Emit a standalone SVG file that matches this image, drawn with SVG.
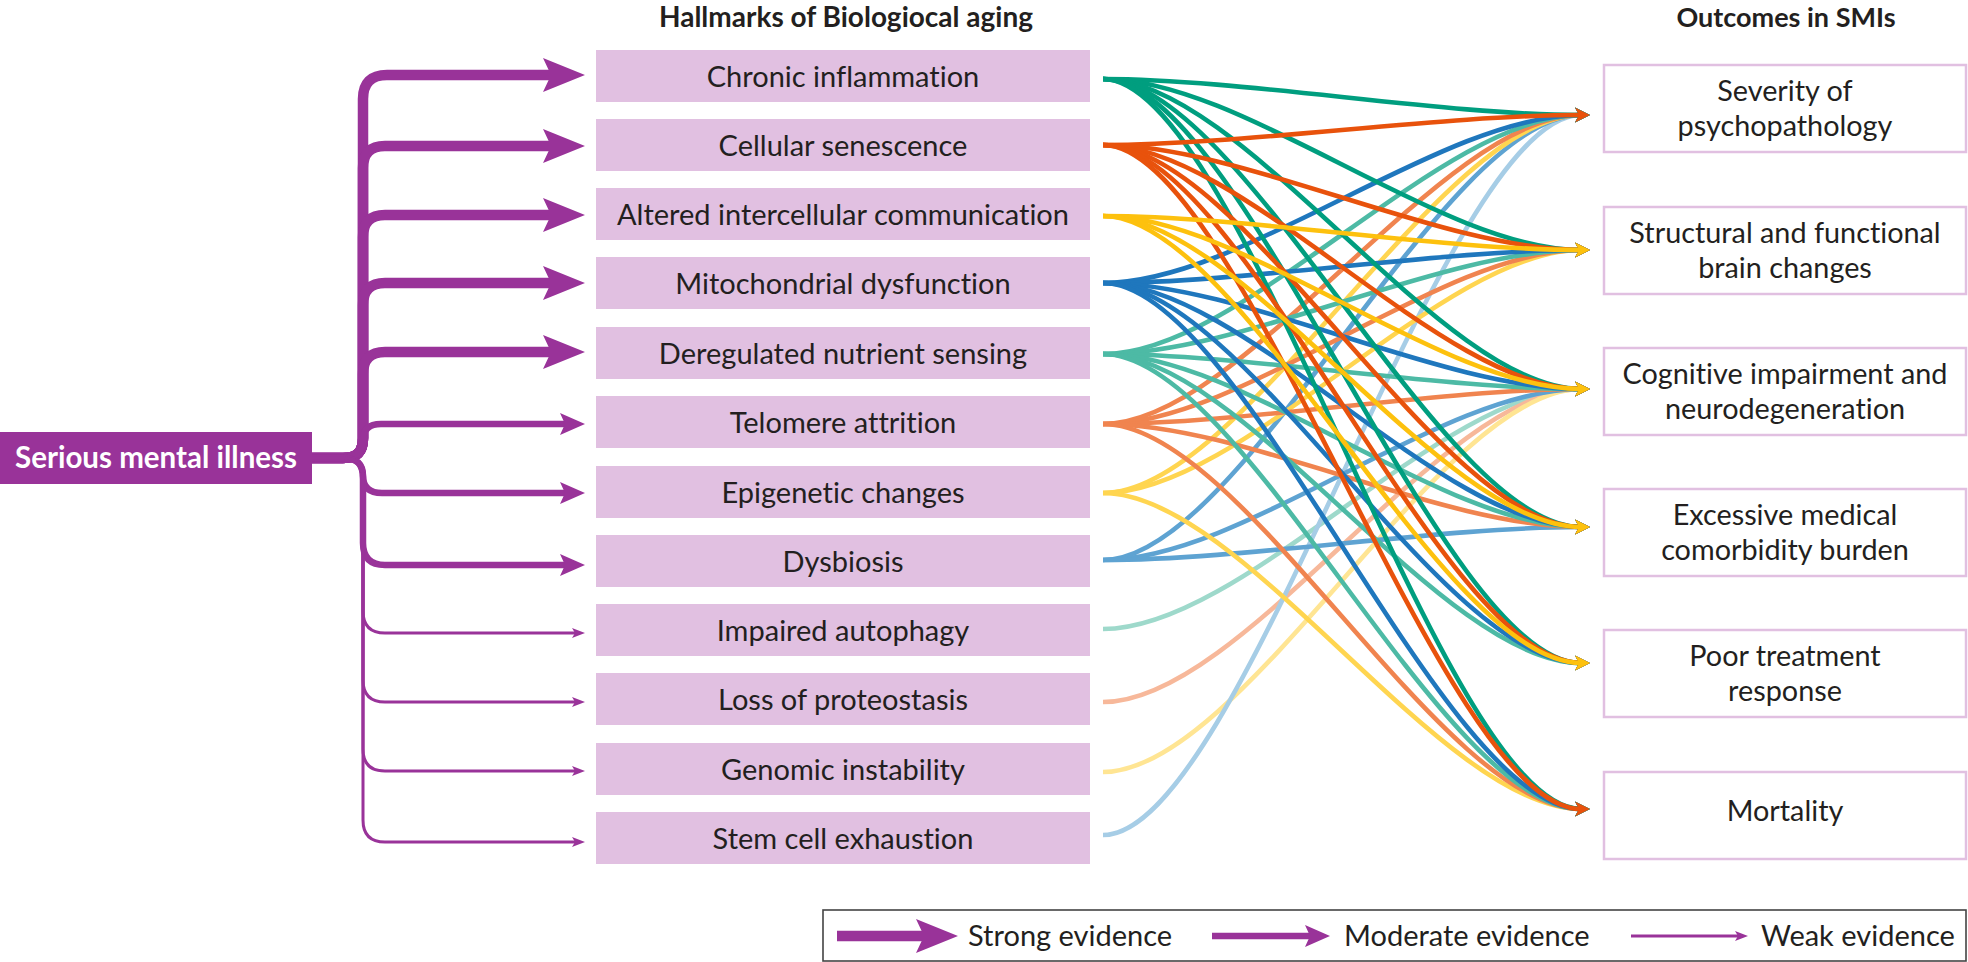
<svg xmlns="http://www.w3.org/2000/svg" width="1968" height="962" viewBox="0 0 1968 962">
<style>
text{font-family:Lato,"Open Sans","Liberation Sans",sans-serif;fill:#231f20;font-variant-ligatures:none}
.hm rect{fill:#e1c0e1}
.hm text{font-size:29px;text-anchor:middle}
.oc rect{fill:#fff;stroke:#e1c0e1;stroke-width:2.5}
.oc text{font-size:28.8px;text-anchor:middle}
.head{font-weight:700;text-anchor:middle}
.lg{font-size:29px}
.br{fill:none;stroke:#993399;stroke-linejoin:round}
.s{stroke-width:10.5;marker-end:url(#mS)}
.m{stroke-width:6.5;marker-end:url(#mM)}
.w{stroke-width:3;marker-end:url(#mW)}
.c{fill:none;stroke-width:4.6}
</style>
<defs>
<marker id="mS" markerUnits="userSpaceOnUse" markerWidth="42" markerHeight="34" refX="17" refY="17" orient="auto" overflow="visible"><polygon points="0,0 42,17 0,34 8,17" fill="#993399"/></marker>
<marker id="mM" markerUnits="userSpaceOnUse" markerWidth="25" markerHeight="22" refX="13" refY="11" orient="auto" overflow="visible"><polygon points="0,0 25,11 0,22 5,11" fill="#993399"/></marker>
<marker id="mW" markerUnits="userSpaceOnUse" markerWidth="13" markerHeight="10" refX="7" refY="5" orient="auto" overflow="visible"><polygon points="0,0 13,5 0,10 3,5" fill="#993399"/></marker>
<marker id="a1" markerUnits="userSpaceOnUse" markerWidth="15" markerHeight="15" refX="6" refY="7.5" orient="auto" overflow="visible"><polygon points="0,0 15,7.5 0,15 4,7.5" fill="#009e7f"/></marker>
<marker id="a2" markerUnits="userSpaceOnUse" markerWidth="15" markerHeight="15" refX="6" refY="7.5" orient="auto" overflow="visible"><polygon points="0,0 15,7.5 0,15 4,7.5" fill="#e8520c"/></marker>
<marker id="a3" markerUnits="userSpaceOnUse" markerWidth="15" markerHeight="15" refX="6" refY="7.5" orient="auto" overflow="visible"><polygon points="0,0 15,7.5 0,15 4,7.5" fill="#fdc10e"/></marker>
<marker id="a4" markerUnits="userSpaceOnUse" markerWidth="15" markerHeight="15" refX="6" refY="7.5" orient="auto" overflow="visible"><polygon points="0,0 15,7.5 0,15 4,7.5" fill="#1f77bd"/></marker>
<marker id="a5" markerUnits="userSpaceOnUse" markerWidth="15" markerHeight="15" refX="6" refY="7.5" orient="auto" overflow="visible"><polygon points="0,0 15,7.5 0,15 4,7.5" fill="#4dbaa5"/></marker>
<marker id="a6" markerUnits="userSpaceOnUse" markerWidth="15" markerHeight="15" refX="6" refY="7.5" orient="auto" overflow="visible"><polygon points="0,0 15,7.5 0,15 4,7.5" fill="#f0844f"/></marker>
<marker id="a7" markerUnits="userSpaceOnUse" markerWidth="15" markerHeight="15" refX="6" refY="7.5" orient="auto" overflow="visible"><polygon points="0,0 15,7.5 0,15 4,7.5" fill="#ffd550"/></marker>
<marker id="a8" markerUnits="userSpaceOnUse" markerWidth="15" markerHeight="15" refX="6" refY="7.5" orient="auto" overflow="visible"><polygon points="0,0 15,7.5 0,15 4,7.5" fill="#5ea3d2"/></marker>
<marker id="a9" markerUnits="userSpaceOnUse" markerWidth="15" markerHeight="15" refX="6" refY="7.5" orient="auto" overflow="visible"><polygon points="0,0 15,7.5 0,15 4,7.5" fill="#9ed9cb"/></marker>
<marker id="a10" markerUnits="userSpaceOnUse" markerWidth="15" markerHeight="15" refX="6" refY="7.5" orient="auto" overflow="visible"><polygon points="0,0 15,7.5 0,15 4,7.5" fill="#f7b89a"/></marker>
<marker id="a11" markerUnits="userSpaceOnUse" markerWidth="15" markerHeight="15" refX="6" refY="7.5" orient="auto" overflow="visible"><polygon points="0,0 15,7.5 0,15 4,7.5" fill="#ffe593"/></marker>
<marker id="a12" markerUnits="userSpaceOnUse" markerWidth="15" markerHeight="15" refX="6" refY="7.5" orient="auto" overflow="visible"><polygon points="0,0 15,7.5 0,15 4,7.5" fill="#a6cde6"/></marker>
</defs>

<text class="head" x="846" y="27" font-size="28">Hallmarks of Biologiocal aging</text>
<text class="head" x="1786" y="27" font-size="27">Outcomes in SMIs</text>

<g id="connectors">
<g id="smi-branches">
<path class="br s" d="M312,458 H343 C357,458 363,452 363,438 V99 Q363,75 387,75 H560"/>
<path class="br s" d="M312,458 H343 C357,458 363,452 363,438 V168 Q363,146 385,146 H560"/>
<path class="br s" d="M312,458 H343 C357,458 363,452 363,438 V237 Q363,215 385,215 H560"/>
<path class="br s" d="M312,458 H343 C357,458 363,452 363,438 V305 Q363,283 385,283 H560"/>
<path class="br s" d="M312,458 H343 C357,458 363,452 363,438 V374 Q363,352 385,352 H560"/>
<path class="br m" d="M312,458 H343 C357,458 363,452 363,440 Q363,424 381,424 H573"/>
<path class="br m" d="M312,458 H343 C357,458 363,464 363,476 Q363,493 382,493 H573"/>
<path class="br m" d="M312,458 H343 C357,458 363,464 363,478 V543 Q363,565 385,565 H573"/>
<path class="br w" d="M312,458 H343 C357,458 363,464 363,478 V611 Q363,633 385,633 H579"/>
<path class="br w" d="M312,458 H343 C357,458 363,464 363,478 V680 Q363,702 385,702 H579"/>
<path class="br w" d="M312,458 H343 C357,458 363,464 363,478 V749 Q363,771 385,771 H579"/>
<path class="br w" d="M312,458 H343 C357,458 363,464 363,478 V820 Q363,842 385,842 H579"/>
</g>
<g id="hallmark-links">
<path class="c" stroke="#9ed9cb" marker-end="url(#a9)" d="M1103,629 C1243,629 1441,389 1581,389"/>
<path class="c" stroke="#f7b89a" marker-end="url(#a10)" d="M1103,702 C1243,702 1441,389 1581,389"/>
<path class="c" stroke="#ffe593" marker-end="url(#a11)" d="M1103,772 C1243,772 1441,389 1581,389"/>
<path class="c" stroke="#a6cde6" marker-end="url(#a12)" d="M1103,835 C1243,835 1441,115 1581,115"/>
<path class="c" stroke="#5ea3d2" marker-end="url(#a8)" d="M1103,560 C1243,560 1441,115 1581,115"/>
<path class="c" stroke="#5ea3d2" marker-end="url(#a8)" d="M1103,560 C1243,560 1441,389 1581,389"/>
<path class="c" stroke="#5ea3d2" marker-end="url(#a8)" d="M1103,560 C1243,560 1441,527 1581,527"/>
<path class="c" stroke="#ffd550" marker-end="url(#a7)" d="M1103,493 C1243,493 1441,115 1581,115"/>
<path class="c" stroke="#ffd550" marker-end="url(#a7)" d="M1103,493 C1243,493 1441,250 1581,250"/>
<path class="c" stroke="#ffd550" marker-end="url(#a7)" d="M1103,493 C1243,493 1441,809 1581,809"/>
<path class="c" stroke="#f0844f" marker-end="url(#a6)" d="M1103,424 C1243,424 1441,115 1581,115"/>
<path class="c" stroke="#f0844f" marker-end="url(#a6)" d="M1103,424 C1243,424 1441,250 1581,250"/>
<path class="c" stroke="#f0844f" marker-end="url(#a6)" d="M1103,424 C1243,424 1441,389 1581,389"/>
<path class="c" stroke="#f0844f" marker-end="url(#a6)" d="M1103,424 C1243,424 1441,527 1581,527"/>
<path class="c" stroke="#f0844f" marker-end="url(#a6)" d="M1103,424 C1243,424 1441,809 1581,809"/>
<path class="c" stroke="#4dbaa5" marker-end="url(#a5)" d="M1103,354 C1243,354 1441,115 1581,115"/>
<path class="c" stroke="#4dbaa5" marker-end="url(#a5)" d="M1103,354 C1243,354 1441,250 1581,250"/>
<path class="c" stroke="#4dbaa5" marker-end="url(#a5)" d="M1103,354 C1243,354 1441,389 1581,389"/>
<path class="c" stroke="#4dbaa5" marker-end="url(#a5)" d="M1103,354 C1243,354 1441,527 1581,527"/>
<path class="c" stroke="#4dbaa5" marker-end="url(#a5)" d="M1103,354 C1243,354 1441,663 1581,663"/>
<path class="c" stroke="#4dbaa5" marker-end="url(#a5)" d="M1103,354 C1243,354 1441,809 1581,809"/>
<path class="c" stroke="#1f77bd" marker-end="url(#a4)" d="M1103,283 C1243,283 1441,115 1581,115"/>
<path class="c" stroke="#1f77bd" marker-end="url(#a4)" d="M1103,283 C1243,283 1441,250 1581,250"/>
<path class="c" stroke="#1f77bd" marker-end="url(#a4)" d="M1103,283 C1243,283 1441,389 1581,389"/>
<path class="c" stroke="#1f77bd" marker-end="url(#a4)" d="M1103,283 C1243,283 1441,527 1581,527"/>
<path class="c" stroke="#1f77bd" marker-end="url(#a4)" d="M1103,283 C1243,283 1441,663 1581,663"/>
<path class="c" stroke="#1f77bd" marker-end="url(#a4)" d="M1103,283 C1243,283 1441,809 1581,809"/>
<path class="c" stroke="#009e7f" marker-end="url(#a1)" d="M1103,79 C1243,79 1441,115 1581,115"/>
<path class="c" stroke="#009e7f" marker-end="url(#a1)" d="M1103,79 C1243,79 1441,250 1581,250"/>
<path class="c" stroke="#009e7f" marker-end="url(#a1)" d="M1103,79 C1243,79 1441,389 1581,389"/>
<path class="c" stroke="#009e7f" marker-end="url(#a1)" d="M1103,79 C1243,79 1441,527 1581,527"/>
<path class="c" stroke="#009e7f" marker-end="url(#a1)" d="M1103,79 C1243,79 1441,663 1581,663"/>
<path class="c" stroke="#009e7f" marker-end="url(#a1)" d="M1103,79 C1243,79 1441,809 1581,809"/>
<path class="c" stroke="#e8520c" marker-end="url(#a2)" d="M1103,145 C1243,145 1441,115 1581,115"/>
<path class="c" stroke="#e8520c" marker-end="url(#a2)" d="M1103,145 C1243,145 1441,250 1581,250"/>
<path class="c" stroke="#e8520c" marker-end="url(#a2)" d="M1103,145 C1243,145 1441,389 1581,389"/>
<path class="c" stroke="#e8520c" marker-end="url(#a2)" d="M1103,145 C1243,145 1441,527 1581,527"/>
<path class="c" stroke="#e8520c" marker-end="url(#a2)" d="M1103,145 C1243,145 1441,663 1581,663"/>
<path class="c" stroke="#e8520c" marker-end="url(#a2)" d="M1103,145 C1243,145 1441,809 1581,809"/>
<path class="c" stroke="#fdc10e" marker-end="url(#a3)" d="M1103,216 C1243,216 1441,250 1581,250"/>
<path class="c" stroke="#fdc10e" marker-end="url(#a3)" d="M1103,216 C1243,216 1441,389 1581,389"/>
<path class="c" stroke="#fdc10e" marker-end="url(#a3)" d="M1103,216 C1243,216 1441,527 1581,527"/>
<path class="c" stroke="#fdc10e" marker-end="url(#a3)" d="M1103,216 C1243,216 1441,663 1581,663"/>
</g>
</g>

<g id="smi">
<rect x="0" y="432" width="312" height="52" fill="#993399"/>
<text x="156" y="468" font-size="29.5" font-weight="700" text-anchor="middle" style="fill:#fff">Serious mental illness</text>
</g>

<g id="h1" class="hm"><rect x="596" y="50" width="494" height="52"/><text x="843" y="87">Chronic inflammation</text></g>
<g id="h2" class="hm"><rect x="596" y="119" width="494" height="52"/><text x="843" y="156">Cellular senescence</text></g>
<g id="h3" class="hm"><rect x="596" y="188" width="494" height="52"/><text x="843" y="225">Altered intercellular communication</text></g>
<g id="h4" class="hm"><rect x="596" y="257" width="494" height="52"/><text x="843" y="294">Mitochondrial dysfunction</text></g>
<g id="h5" class="hm"><rect x="596" y="327" width="494" height="52"/><text x="843" y="364">Deregulated nutrient sensing</text></g>
<g id="h6" class="hm"><rect x="596" y="396" width="494" height="52"/><text x="843" y="433">Telomere attrition</text></g>
<g id="h7" class="hm"><rect x="596" y="466" width="494" height="52"/><text x="843" y="503">Epigenetic changes</text></g>
<g id="h8" class="hm"><rect x="596" y="535" width="494" height="52"/><text x="843" y="572">Dysbiosis</text></g>
<g id="h9" class="hm"><rect x="596" y="604" width="494" height="52"/><text x="843" y="641">Impaired autophagy</text></g>
<g id="h10" class="hm"><rect x="596" y="673" width="494" height="52"/><text x="843" y="710">Loss of proteostasis</text></g>
<g id="h11" class="hm"><rect x="596" y="743" width="494" height="52"/><text x="843" y="780">Genomic instability</text></g>
<g id="h12" class="hm"><rect x="596" y="812" width="494" height="52"/><text x="843" y="849">Stem cell exhaustion</text></g>

<g id="o1" class="oc"><rect x="1604" y="65" width="362" height="87"/><text x="1785" y="101">Severity of</text><text x="1785" y="136">psychopathology</text></g>
<g id="o2" class="oc"><rect x="1604" y="207" width="362" height="87"/><text x="1785" y="243">Structural and functional</text><text x="1785" y="278">brain changes</text></g>
<g id="o3" class="oc"><rect x="1604" y="348" width="362" height="87"/><text x="1785" y="384">Cognitive impairment and</text><text x="1785" y="419">neurodegeneration</text></g>
<g id="o4" class="oc"><rect x="1604" y="489" width="362" height="87"/><text x="1785" y="525">Excessive medical</text><text x="1785" y="560">comorbidity burden</text></g>
<g id="o5" class="oc"><rect x="1604" y="630" width="362" height="87"/><text x="1785" y="666">Poor treatment</text><text x="1785" y="701">response</text></g>
<g id="o6" class="oc"><rect x="1604" y="772" width="362" height="87"/><text x="1785" y="821">Mortality</text></g>

<g id="legend">
<rect x="823" y="910" width="1143" height="51" fill="#fff" stroke="#444" stroke-width="1.6"/>
<path class="br s" d="M837,936 H933"/>
<text class="lg" x="968" y="946">Strong evidence</text>
<path class="br m" d="M1212,936 H1318"/>
<text class="lg" x="1344" y="946">Moderate evidence</text>
<path class="br w" d="M1631,936 H1742"/>
<text class="lg" x="1761" y="946">Weak evidence</text>
</g>
</svg>
